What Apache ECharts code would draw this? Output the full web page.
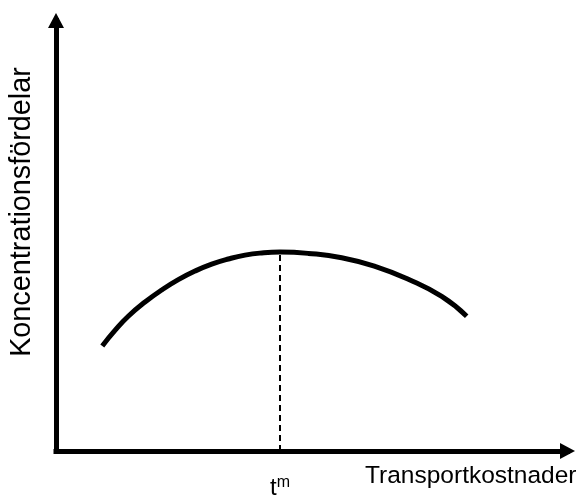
<!DOCTYPE html>
<html>
<head>
<meta charset="utf-8">
<script src="https://cdn.jsdelivr.net/npm/echarts@6/dist/echarts.min.js"></script>
<style>
html,body{margin:0;padding:0;background:#fff;}
#chart{width:584px;height:496px;}
</style>
</head>
<body>
<div id="chart"></div>
<script>
// Curve: concentration advantages vs transport costs (values in axis units 0..100)
const curveX = [9.05, 11.53, 14.13, 17.40, 20.66, 23.91, 27.18, 30.44, 33.69, 36.95, 40.22, 43.79, 49.33, 55.86, 62.37, 68.88, 75.41, 80.29];
const curveY = [24.4, 28.0, 31.3, 34.6, 37.4, 39.8, 41.8, 43.4, 44.6, 45.5, 46.0, 46.2, 45.9, 44.9, 42.9, 39.9, 35.9, 31.3];
const peakX = 43.79;     // t^m
const peakY = 46.2;
const xAxisTitle = 'Transportkostnader';
const yAxisTitle = 'Koncentrationsfördelar';
const tickLabel = ['t', 'm'];

const FONT = '"Liberation Sans", Arial, sans-serif';
const chart = echarts.init(document.getElementById('chart'));

const curveData = curveX.map((x, i) => [x, curveY[i]]);
const dashData = [[peakX, 0], [peakX, peakY]];

const axisLineStyle = {
  show: true,
  symbol: ['none', 'triangle'],
  symbolSize: [16, 15],
  lineStyle: { color: '#000', width: 5, cap: 'square' }
};

chart.setOption({
  animation: false,
  backgroundColor: '#fff',
  grid: { left: 56, right: 16.5, top: 20.5, bottom: 45, containLabel: false, outerBoundsMode: 'none' },
  xAxis: {
    type: 'value', min: 0, max: 100,
    splitLine: { show: false },
    axisTick: { show: false },
    axisLine: axisLineStyle,
    axisLabel: {
      show: true,
      customValues: [peakX],
      margin: 24,
      formatter: () => '{t|' + tickLabel[0] + '}{m|' + tickLabel[1] + '}',
      rich: {
        t: { fontFamily: FONT, fontSize: 24, color: '#000' },
        m: { fontFamily: FONT, fontSize: 16, color: '#000', padding: [0, 0, 10, 0] }
      }
    }
  },
  yAxis: {
    type: 'value', min: 0, max: 100,
    splitLine: { show: false },
    axisTick: { show: false },
    axisLabel: { show: false },
    axisLine: axisLineStyle
  },
  graphic: [
    {
      type: 'text', left: 365, top: 464,
      style: { text: xAxisTitle, font: '24.5px ' + FONT, fill: '#000' }
    },
    {
      type: 'text', x: 22, y: 212, rotation: Math.PI / 2,
      style: { text: yAxisTitle, font: '28.8px ' + FONT, fill: '#000', textAlign: 'center', textVerticalAlign: 'middle' }
    }
  ],
  series: [
    {
      type: 'line', data: dashData, showSymbol: false, silent: true,
      lineStyle: { color: '#000', width: 2, type: [6, 4] }
    },
    {
      type: 'line', data: curveData, smooth: 0.5, showSymbol: false, silent: true,
      lineStyle: { color: '#000', width: 5, cap: 'butt' }
    }
  ]
});
</script>
</body>
</html>
